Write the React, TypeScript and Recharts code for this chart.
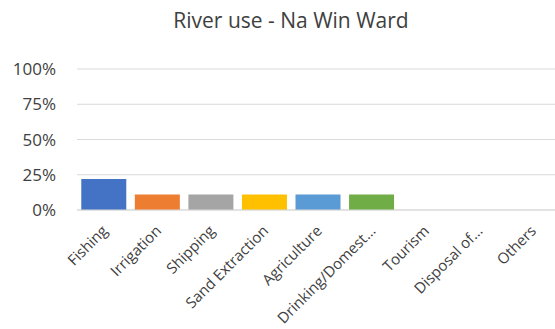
import React from 'react';
import { BarChart, Bar, XAxis, YAxis, CartesianGrid, Cell } from 'recharts';

const categories = [
  'Fishing',
  'Irrigation',
  'Shipping',
  'Sand Extraction',
  'Agriculture',
  'Drinking/Domest…',
  'Tourism',
  'Disposal of…',
  'Others',
];
const shares = [0.22, 0.11, 0.11, 0.11, 0.11, 0.11, 0, 0, 0];
const barColors = ['#4472C4', '#ED7D31', '#A5A5A5', '#FFC000', '#5B9BD5', '#70AD47', '#264478', '#9E480E', '#636363'];
const yTicks = [0, 0.25, 0.5, 0.75, 1];

const data = categories.map((name, i) => ({ name, value: shares[i] }));

const FONT = '"Open Sans", Lato, sans-serif';

const RotatedTick = ({ x, y, payload }: any) => (
  <g transform={`translate(${x + 2},${y + 11})`}>
    <text
      transform="rotate(-45)"
      textAnchor="end"
      dominantBaseline="middle"
      fill="#404040"
      fontSize={15}
      fontFamily={FONT}
    >
      {payload.value}
    </text>
  </g>
);

export default function App() {
  return (
    <div style={{ position: 'absolute', left: 0, top: 0, width: 555, height: 329, background: '#fff', overflow: 'hidden' }}>
      <svg style={{ position: 'absolute', left: 0, top: 0 }} width={555} height={40}>
        <text x={291} y={28} textAnchor="middle" fontSize={21} fill="#404040" fontFamily={FONT}>
          River use - Na Win Ward
        </text>
      </svg>
      <BarChart
        width={555}
        height={329}
        data={data}
        margin={{ top: 69, right: -4, left: 0, bottom: 0 }}
        barCategoryGap="8%"
        style={{ overflow: 'hidden' }}
      >
        <CartesianGrid vertical={false} stroke="#d9d9d9" />
        <XAxis
          dataKey="name"
          interval={0}
          height={119}
          tickLine={false}
          axisLine={{ stroke: '#d9d9d9' }}
          tick={<RotatedTick />}
        />
        <YAxis
          width={77}
          domain={[0, 1]}
          ticks={yTicks}
          tickFormatter={(v: number) => `${Math.round(v * 100)}%`}
          axisLine={false}
          tickLine={false}
          tickMargin={15}
          tick={{ fill: '#404040', fontSize: 17, fontFamily: FONT }}
        />
        <Bar dataKey="value" isAnimationActive={false}>
          {data.map((d, i) => (
            <Cell key={d.name} fill={barColors[i]} />
          ))}
        </Bar>
      </BarChart>
    </div>
  );
}
